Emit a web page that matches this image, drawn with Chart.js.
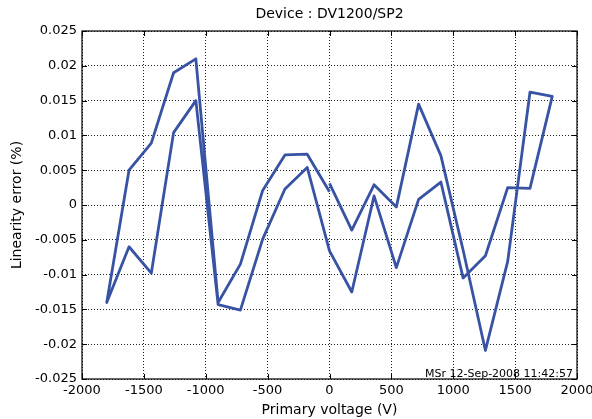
<!DOCTYPE html>
<html>
<head>
<meta charset="utf-8">
<script src="https://cdn.jsdelivr.net/npm/chart.js@4.4.1/dist/chart.umd.min.js"></script>
<style>
  html, body { margin: 0; padding: 0; background: #fff; }
  #wrap { width: 592px; height: 419px; }
</style>
</head>
<body>
<div id="wrap"><canvas id="c" width="592" height="419"></canvas></div>
<script>
// Primary voltage (V), measurement order: 0 -> +1800 -> -1800 -> 0
const voltages = [0, 180, 360, 540, 720, 900, 1080, 1260, 1440, 1620, 1800,
  1620, 1440, 1260, 1080, 900, 720, 540, 360, 180, 0,
  -180, -360, -540, -720, -900, -1080, -1260, -1440, -1620, -1800,
  -1620, -1440, -1260, -1080, -900, -720, -540, -360, -180, 0];
// Linearity error (%)
const linearityError = [0.0031, -0.0036, 0.0029, -0.0003, 0.0145, 0.0071, -0.0065, -0.0209, -0.0081, 0.0162, 0.0156,
  0.0024, 0.0025, -0.0073, -0.0105, 0.0033, 0.0008, -0.0090, 0.0013, -0.0125, -0.0066,
  0.0054, 0.0023, -0.0049, -0.0151, -0.0143, 0.0150, 0.0104, -0.0098, -0.0060, -0.0140,
  0.0050, 0.0089, 0.0190, 0.0210, -0.0140, -0.0085, 0.0021, 0.0072, 0.0073, 0.0019];

const xTicks = [-2000, -1500, -1000, -500, 0, 500, 1000, 1500, 2000];
const yTicks = [-0.025, -0.02, -0.015, -0.01, -0.005, 0, 0.005, 0.01, 0.015, 0.02, 0.025];
const yTickLabels = ['-0.025', '-0.02', '-0.015', '-0.01', '-0.005', '0', '0.005', '0.01', '0.015', '0.02', '0.025'];

const chartTitle = 'Device : DV1200/SP2';
const xTitle = 'Primary voltage (V)';
const yTitle = 'Linearity error (%)';
const stampText = 'MSr 12-Sep-2008 11:42:57';

const points = voltages.map((v, i) => ({ x: v, y: linearityError[i] }));

const FONT = "'DejaVu Sans', sans-serif";

const boxPlugin = {
  id: 'boxPlugin',
  afterDatasetsDraw(chart) {
    const { ctx, chartArea: a, scales } = chart;
    ctx.save();
    ctx.strokeStyle = '#000';
    ctx.lineWidth = 1.2;
    ctx.strokeRect(a.left, a.top, a.right - a.left, a.bottom - a.top);
    // inward tick marks
    ctx.lineWidth = 1;
    const tl = 5;
    ctx.beginPath();
    xTicks.forEach(t => {
      const px = Math.round(scales.x.getPixelForValue(t)) + 0.5;
      ctx.moveTo(px, a.bottom); ctx.lineTo(px, a.bottom - tl);
      ctx.moveTo(px, a.top); ctx.lineTo(px, a.top + tl);
    });
    yTicks.forEach(t => {
      const py = Math.round(scales.y.getPixelForValue(t)) + 0.5;
      ctx.moveTo(a.left, py); ctx.lineTo(a.left + tl, py);
      ctx.moveTo(a.right, py); ctx.lineTo(a.right - tl, py);
    });
    ctx.stroke();
    ctx.fillStyle = '#000';
    // title centred over the axes
    ctx.font = "14px " + FONT;
    ctx.textAlign = 'center';
    ctx.textBaseline = 'middle';
    ctx.fillText(chartTitle, (a.left + a.right) / 2, 14);
    // time stamp
    ctx.font = "11px " + FONT;
    ctx.textAlign = 'right';
    ctx.textBaseline = 'alphabetic';
    ctx.fillText(stampText, a.right - 4, a.bottom - 2.5);
    ctx.restore();
  }
};

new Chart(document.getElementById('c'), {
  type: 'scatter',
  data: {
    datasets: [{
      data: points,
      showLine: true,
      borderColor: '#3853a4',
      backgroundColor: '#3853a4',
      borderWidth: 2.8,
      borderJoinStyle: 'round',
      borderCapStyle: 'butt',
      pointRadius: 0,
      tension: 0,
      fill: false
    }]
  },
  options: {
    responsive: false,
    animation: false,
    devicePixelRatio: 1,
    layout: { padding: { left: 0, right: 15, top: 31, bottom: 0 } },
    plugins: {
      legend: { display: false },
      tooltip: { enabled: false },
      title: { display: false }
    },
    scales: {
      x: {
        type: 'linear',
        min: -2000, max: 2000,
        afterBuildTicks(s) { s.ticks = xTicks.map(v => ({ value: v })); },
        afterFit(s) { s.height = 40; s.paddingLeft = 0; s.paddingRight = 0; },
        ticks: {
          color: '#000',
          font: { family: FONT, size: 13 },
          padding: 4,
          maxRotation: 0,
          autoSkip: false,
          callback: v => String(v)
        },
        grid: { color: '#222', lineWidth: 1, drawTicks: false },
        border: { display: false, dash: [1, 2] },
        title: {
          display: true, text: xTitle, color: '#000',
          font: { family: FONT, size: 14 }, padding: { top: 2, bottom: 0 }
        }
      },
      y: {
        type: 'linear',
        min: -0.025, max: 0.025,
        afterBuildTicks(s) { s.ticks = yTicks.map(v => ({ value: v })); },
        afterFit(s) { s.width = 82; s.paddingTop = 0; s.paddingBottom = 0; },
        ticks: {
          color: '#000',
          font: { family: FONT, size: 13 },
          padding: 5,
          autoSkip: false,
          callback: (v) => {
            const i = yTicks.findIndex(t => Math.abs(t - v) < 1e-9);
            return i >= 0 ? yTickLabels[i] : '';
          }
        },
        grid: { color: '#222', lineWidth: 1, drawTicks: false },
        border: { display: false, dash: [1, 2] },
        title: {
          display: true, text: yTitle, color: '#000',
          font: { family: FONT, size: 14 }, padding: { top: 9, bottom: 0 }
        }
      }
    }
  },
  plugins: [boxPlugin]
});
</script>
</body>
</html>
